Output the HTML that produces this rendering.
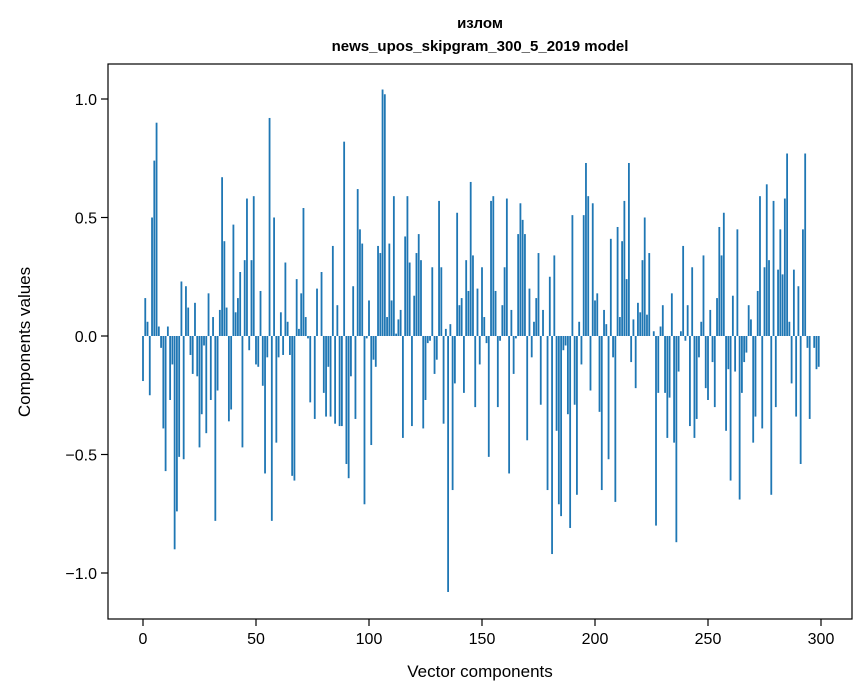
<!DOCTYPE html>
<html><head><meta charset="utf-8"><style>
body{margin:0;background:#fff;}
svg{display:block;font-family:"Liberation Sans","DejaVu Sans",sans-serif;}
</style></head><body>
<svg id="chart" width="867" height="696">
<rect x="0" y="0" width="867" height="696" fill="#fff"/>
<text x="480" y="28" text-anchor="middle" font-size="15" font-weight="bold" font-family="Liberation Sans, DejaVu Sans, sans-serif">излом</text>
<text x="480" y="51" text-anchor="middle" font-size="15" font-weight="bold">news_upos_skipgram_300_5_2019 model</text>
<g id="bars"></g>
<g id="axes"></g>
<text x="480" y="677" text-anchor="middle" font-size="17">Vector components</text>
<text transform="translate(30,342) rotate(-90)" text-anchor="middle" font-size="17">Components values</text>
</svg>
<script>
const values = [-0.19,0.16,0.06,-0.25,0.50,0.74,0.90,0.04,-0.05,-0.39,
-0.57,0.04,-0.27,-0.12,-0.90,-0.74,-0.51,0.23,-0.52,0.21,
0.12,-0.08,-0.16,0.14,-0.17,-0.47,-0.33,-0.04,-0.41,0.18,
-0.27,0.08,-0.78,-0.23,0.11,0.67,0.40,0.12,-0.36,-0.31,
0.47,0.10,0.16,0.27,-0.47,0.32,0.58,-0.06,0.32,0.59,
-0.12,-0.13,0.19,-0.21,-0.58,-0.09,0.92,-0.78,0.50,-0.45,
-0.09,0.10,-0.08,0.31,0.06,-0.08,-0.59,-0.61,0.24,0.03,
0.18,0.54,0.08,-0.01,-0.28,0.00,-0.35,0.20,0.00,0.27,
-0.24,-0.34,-0.13,-0.34,0.38,-0.37,0.13,-0.38,-0.38,0.82,
-0.54,-0.60,-0.17,0.21,-0.35,0.62,0.45,0.39,-0.71,-0.01,
0.15,-0.46,-0.10,-0.13,0.38,0.35,1.04,1.02,0.08,0.39,
0.15,0.59,0.01,0.07,0.11,-0.43,0.42,0.59,0.31,-0.38,
0.17,0.35,0.43,0.32,-0.39,-0.27,-0.03,-0.02,0.29,-0.16,
-0.10,0.57,0.29,-0.37,0.03,-1.08,0.05,-0.65,-0.20,0.52,
0.13,0.16,-0.24,0.32,0.19,0.65,0.34,-0.30,0.20,-0.12,
0.29,0.08,-0.03,-0.51,0.57,0.59,0.19,-0.30,-0.02,0.13,
0.29,0.58,-0.58,0.11,-0.16,-0.01,0.43,0.56,0.49,0.43,
-0.44,0.20,-0.09,0.06,0.16,0.35,-0.29,0.11,0.00,-0.65,
0.25,-0.92,0.34,-0.40,-0.71,-0.76,-0.06,-0.04,-0.33,-0.81,
0.51,-0.29,-0.67,0.06,-0.12,0.51,0.73,0.59,-0.23,0.56,
0.15,0.18,-0.32,-0.65,0.11,0.05,-0.52,0.41,-0.09,-0.70,
0.46,0.08,0.40,0.57,0.24,0.73,-0.11,0.07,-0.22,0.14,
0.10,0.32,0.50,0.09,0.35,0.00,0.02,-0.80,-0.24,0.04,
0.13,-0.24,-0.43,-0.26,0.18,-0.45,-0.87,-0.15,0.02,0.38,
-0.02,0.13,-0.38,0.29,-0.43,-0.35,-0.09,0.06,0.34,-0.22,
-0.27,0.11,-0.11,-0.30,0.16,0.46,0.34,0.52,-0.40,-0.14,
-0.61,0.17,-0.15,0.45,-0.69,-0.24,-0.11,-0.07,0.13,0.07,
-0.45,-0.34,0.19,0.59,-0.39,0.29,0.64,0.32,-0.67,0.57,
-0.30,0.28,0.45,0.26,0.58,0.77,0.06,-0.20,0.28,-0.34,
0.21,-0.54,0.45,0.77,-0.05,-0.35,0.00,-0.05,-0.14,-0.13];
const xTicks = [0,50,100,150,200,250,300];
const yTicks = [-1.0,-0.5,0.0,0.5,1.0];
const yTickLabels = ["\u22121.0","\u22120.5","0.0","0.5","1.0"];

const NS="http://www.w3.org/2000/svg";
const L=108,R=852,T=64,B=619;
function xs(v){return 143+(v)*(678/300);}
function ys(v){return 336-v*237;}
const bars=document.getElementById('bars');
values.forEach((v,i)=>{
  const r=document.createElementNS(NS,'rect');
  const w=0.8*(678/300);
  r.setAttribute('x',xs(i)-w/2);
  r.setAttribute('width',w);
  r.setAttribute('y',Math.min(ys(v),ys(0)));
  r.setAttribute('height',Math.abs(ys(v)-ys(0)));
  r.setAttribute('fill','#1f77b4');
  
  
  bars.appendChild(r);
});
const axes=document.getElementById('axes');
function el(tag,attrs,text){const e=document.createElementNS(NS,tag);for(const k in attrs)e.setAttribute(k,attrs[k]);if(text!==undefined)e.textContent=text;axes.appendChild(e);return e;}
const frame=el('rect',{x:L,y:T,width:R-L,height:B-T,fill:'none',stroke:'#000','stroke-width':1.2});


xTicks.forEach(t=>{
  const x=xs(t);
  const tk=el('line',{x1:x,x2:x,y1:B,y2:B+7,stroke:'#000','stroke-width':1.2});
  
  
  const lb=el('text',{x:x,y:B+25,'text-anchor':'middle','font-size':16},String(t));
  
  
});
yTicks.forEach((t,i)=>{
  const y=ys(t);
  const tk=el('line',{x1:L-7,x2:L,y1:y,y2:y,stroke:'#000','stroke-width':1.2});
  
  
  const lb=el('text',{x:L-11,y:y+6,'text-anchor':'end','font-size':16},yTickLabels[i]);
  
  
});
</script>
</body></html>
